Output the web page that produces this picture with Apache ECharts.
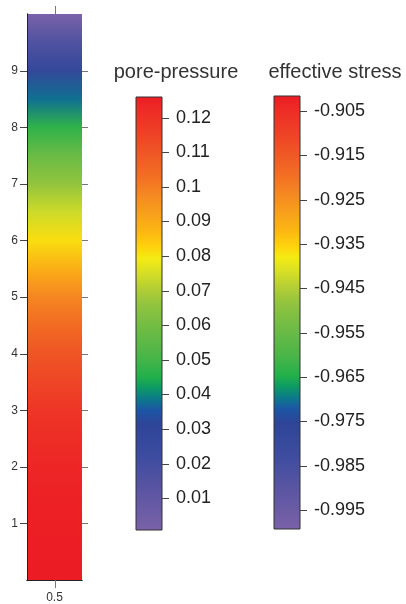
<!DOCTYPE html>
<html><head><meta charset="utf-8">
<script src="https://cdn.jsdelivr.net/npm/echarts@6/dist/echarts.min.js"></script>
<style>html,body{margin:0;padding:0;background:#fff}#c{width:406px;height:604px}</style>
</head><body><div id="c"></div>
<script>
// ---- data ----
const depthLevels = [0,0.5,1,1.5,2,2.5,3,3.5,4,4.5,5,5.5,6,6.5,7,7.5,8,8.5,9,9.5,10];
const porePressure = [0.126,0.1257,0.1253,0.1245,0.1235,0.1215,0.119,0.114,0.110,0.104,0.098,0.089,0.081,0.074,0.066,0.058,0.047,0.038,0.028,0.016,0.001];
const depthTicks = [1,2,3,4,5,6,7,8,9];
const columnXTicks = [0.5];
const poreRange = [0.00085, 0.12595];
const poreTicks = [0.01,0.02,0.03,0.04,0.05,0.06,0.07,0.08,0.09,0.1,0.11,0.12];
const stressRange = [-0.99928, -0.90162];
const stressTicks = [-0.995,-0.985,-0.975,-0.965,-0.955,-0.945,-0.935,-0.925,-0.915,-0.905];
const titles = ['pore-pressure', 'effective stress'];

// ---- colour map (style) ----
const cmapStops = [
  [0,'#7a62a8'],[0.092,'#5b55a2'],[0.169,'#3e4c9f'],[0.246,'#2e4597'],[0.277,'#1c55a5'],
  [0.304,'#0c7a8a'],[0.33,'#0d9b63'],[0.354,'#22b04b'],[0.4,'#4ab548'],[0.462,'#6dbb45'],
  [0.523,'#93c43e'],[0.562,'#b8d033'],[0.6,'#dde123'],[0.627,'#f4eb14'],[0.654,'#fed20d'],
  [0.685,'#fdb913'],[0.73,'#f8a01c'],[0.77,'#f58a21'],[0.815,'#f36f23'],[0.862,'#ef5a25'],
  [0.915,'#ee4126'],[0.97,'#ed2b26'],[1,'#ec1c24']
];
function hexRgb(h){return [parseInt(h.substr(1,2),16),parseInt(h.substr(3,2),16),parseInt(h.substr(5,2),16)];}
function cmap(t){
  t = Math.max(0, Math.min(1, t));
  for (let i = 1; i < cmapStops.length; i++) {
    if (t <= cmapStops[i][0]) {
      const a = cmapStops[i-1], b = cmapStops[i];
      const f = (t - a[0]) / (b[0] - a[0] || 1);
      const ca = hexRgb(a[1]), cb = hexRgb(b[1]);
      const c = ca.map((v,k)=>Math.round(v + (cb[k]-v)*f));
      return 'rgb(' + c.join(',') + ')';
    }
  }
  return cmapStops[cmapStops.length-1][1];
}
const FONT = '"Liberation Sans", Arial, sans-serif';
const fmt = v => String(parseFloat(Number(v).toFixed(3)));
const crisp = v => Math.round(v) + 0.5;

function renderColumn(params, api){
  const d0 = depthLevels[0], dN = depthLevels[depthLevels.length-1];
  const pb = api.coord([0, d0]);
  const pt = api.coord([1, dN]);
  const stops = depthLevels.map((d,i)=>({
    offset: (d - d0)/(dN - d0),
    color: cmap((porePressure[i]-poreRange[0])/(poreRange[1]-poreRange[0]))
  }));
  return {type:'rect', shape:{x:pb[0], y:pt[1], width:pt[0]-pb[0], height:pb[1]-pt[1]},
    style:{fill:new echarts.graphic.LinearGradient(0,1,0,0,stops)}};
}
function line(x1,y1,x2,y2,color){
  return {type:'line', shape:{x1:x1,y1:y1,x2:x2,y2:y2}, style:{stroke:color, lineWidth:1}};
}
function renderColumnTicks(params, api){
  const ch = [];
  depthTicks.forEach(v=>{
    const l = api.coord([0, v]), r = api.coord([1, v]);
    const y = crisp(l[1]);
    ch.push(line(l[0]-7, y, l[0], y, '#444'));
    ch.push(line(r[0], y, r[0]+6, y, '#777'));
  });
  columnXTicks.forEach(v=>{
    const b = api.coord([v, 0]), t = api.coord([v, 10]);
    const x = crisp(b[0]);
    ch.push(line(x, b[1], x, b[1]+8, '#777'));
    ch.push(line(x, t[1]-8, x, t[1], '#777'));
  });
  return {type:'group', children:ch};
}
function makeBarRenderer(range){
  return function(params, api){
    const pb = api.coord([0, range[0]]);
    const pt = api.coord([1, range[1]]);
    return {type:'rect', shape:{x:pb[0], y:pt[1], width:pt[0]-pb[0], height:pb[1]-pt[1]},
      style:{fill:new echarts.graphic.LinearGradient(0,1,0,0,
        cmapStops.map(s=>({offset:s[0], color:s[1]}))), stroke:'#333', lineWidth:1}};
  };
}
function makeBarTicks(ticks){
  return function(params, api){
    return {type:'group', children: ticks.map(v=>{
      const p = api.coord([1, v]);
      const y = crisp(p[1]);
      return line(p[0], y, p[0]+7, y, '#444');
    })};
  };
}

const chart = echarts.init(document.getElementById('c'), null, {renderer:'canvas'});
const axisLineStyle = {show:true, lineStyle:{color:'#222', width:1}};
chart.setOption({
  animation:false,
  textStyle:{fontFamily:FONT},
  grid:[
    {left:27, top:14, width:55, height:567},
    {left:136, top:97, width:26, height:433},
    {left:274, top:96, width:26, height:433}
  ],
  xAxis:[
    {gridIndex:0, type:'value', min:0, max:1, position:'bottom', z:5, axisLine:axisLineStyle,
      splitLine:{show:false}, axisTick:{show:false},
      axisLabel:{show:true, customValues:columnXTicks, margin:12, fontSize:12, color:'#333', fontFamily:FONT, formatter:fmt}},
    {gridIndex:0, type:'value', min:0, max:1, position:'top', z:5, axisLine:axisLineStyle,
      splitLine:{show:false}, axisTick:{show:false}, axisLabel:{show:false}},
    {gridIndex:1, type:'value', min:0, max:1, show:false},
    {gridIndex:2, type:'value', min:0, max:1, show:false}
  ],
  yAxis:[
    {gridIndex:0, type:'value', min:0, max:10, position:'left', z:5, axisLine:axisLineStyle,
      splitLine:{show:false}, axisTick:{show:false},
      axisLabel:{show:true, customValues:depthTicks, margin:9, fontSize:12, color:'#333', fontFamily:FONT}},
    {gridIndex:0, type:'value', min:0, max:10, position:'right', z:5, axisLine:axisLineStyle,
      splitLine:{show:false}, axisTick:{show:false}, axisLabel:{show:false}},
    {gridIndex:1, type:'value', min:poreRange[0], max:poreRange[1], position:'right', z:5,
      axisLine:{show:false}, splitLine:{show:false}, axisTick:{show:false},
      axisLabel:{show:true, customValues:poreTicks, margin:14, fontSize:18, color:'#222', fontFamily:FONT, formatter:fmt}},
    {gridIndex:2, type:'value', min:stressRange[0], max:stressRange[1], position:'right', z:5,
      axisLine:{show:false}, splitLine:{show:false}, axisTick:{show:false},
      axisLabel:{show:true, customValues:stressTicks, margin:14, fontSize:18, color:'#222', fontFamily:FONT, formatter:fmt}}
  ],
  graphic:[
    {type:'text', x:176, y:72, style:{text:titles[0], fill:'#333', font:'20px ' + FONT, textAlign:'center', textVerticalAlign:'middle'}},
    {type:'text', x:335, y:72, style:{text:titles[1], fill:'#333', font:'20px ' + FONT, textAlign:'center', textVerticalAlign:'middle'}}
  ],
  series:[
    {type:'custom', xAxisIndex:0, yAxisIndex:0, z:1, renderItem:renderColumn, data:[[0.5,5]], clip:false, silent:true},
    {type:'custom', xAxisIndex:0, yAxisIndex:0, z:6, renderItem:renderColumnTicks, data:[[0.5,5]], clip:false, silent:true},
    {type:'custom', xAxisIndex:2, yAxisIndex:2, z:1, renderItem:makeBarRenderer(poreRange), data:[[0.5,poreRange[1]]], silent:true},
    {type:'custom', xAxisIndex:2, yAxisIndex:2, z:6, renderItem:makeBarTicks(poreTicks), data:[[0.5,poreRange[1]]], clip:false, silent:true},
    {type:'custom', xAxisIndex:3, yAxisIndex:3, z:1, renderItem:makeBarRenderer(stressRange), data:[[0.5,stressRange[1]]], silent:true},
    {type:'custom', xAxisIndex:3, yAxisIndex:3, z:6, renderItem:makeBarTicks(stressTicks), data:[[0.5,stressRange[1]]], clip:false, silent:true}
  ]
});
</script></body></html>
